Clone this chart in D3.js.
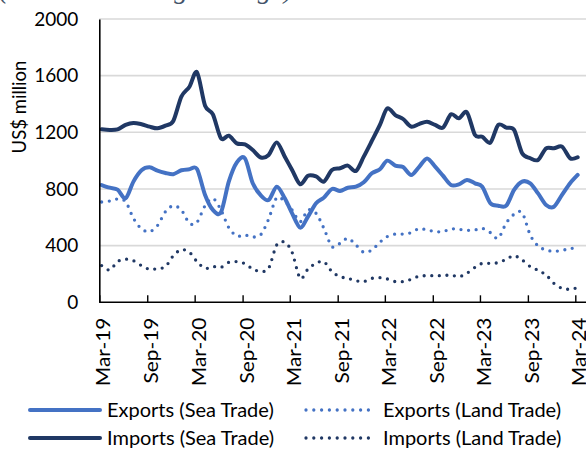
<!DOCTYPE html>
<html>
<head>
<meta charset="utf-8">
<script src="https://cdn.jsdelivr.net/npm/d3@7"></script>
<style>
  html, body { margin: 0; padding: 0; background: #fff; overflow: hidden; }
  svg { display: block; font-family: Lato, "Open Sans", sans-serif; }
</style>
</head>
<body>
<div id="main"></div>
<script>
// monthly values, Mar-19 .. Mar-24 (US$ million)
const exportsSea = [828, 809, 795, 734, 852, 932, 953, 929, 913, 904, 932, 939, 941, 758, 652, 635, 852, 988, 1016, 840,
  755, 722, 816, 734, 628, 527, 605, 699, 739, 800, 786, 809, 816, 847, 911, 939, 1000, 965, 955, 899,
  955, 1016, 958, 894, 828, 833, 864, 840, 816, 699, 682, 682, 793, 852, 840, 769, 687, 675, 758, 840, 899];

const exportsLand = [708, 715, 729, 711, 593, 518, 499, 541, 640, 682, 652, 558, 565, 682, 734, 652, 527, 468, 475, 461,
  478, 588, 739, 711, 652, 569, 652, 628, 522, 393, 416, 452, 405, 353, 369, 424, 464, 482, 482, 492,
  520, 511, 499, 499, 518, 515, 508, 511, 522, 492, 452, 560, 621, 633, 475, 398, 369, 360, 367, 379, 386];

const importsSea = [1221, 1217, 1221, 1252, 1266, 1257, 1240, 1228, 1247, 1280, 1452, 1522, 1624, 1388, 1327, 1158, 1176, 1122, 1115, 1075,
  1022, 1040, 1129, 1028, 934, 833, 894, 889, 852, 934, 946, 965, 927, 1028, 1139, 1252, 1369, 1322, 1294, 1240,
  1258, 1275, 1252, 1233, 1327, 1299, 1341, 1181, 1169, 1127, 1252, 1233, 1217, 1052, 1017, 1005, 1087, 1087, 1099, 1017, 1024];

const importsLand = [259, 228, 287, 304, 294, 259, 233, 238, 252, 329, 372, 353, 287, 240, 252, 247, 282, 287, 273, 235,
  218, 240, 405, 424, 353, 169, 235, 275, 287, 216, 181, 169, 153, 146, 169, 174, 165, 146, 146, 162,
  184, 188, 188, 188, 193, 181, 205, 247, 275, 275, 280, 304, 329, 299, 252, 226, 193, 134, 99, 92, 104];

const tickLabels = ['Mar-19', 'Sep-19', 'Mar-20', 'Sep-20', 'Mar-21', 'Sep-21', 'Mar-22', 'Sep-22', 'Mar-23', 'Sep-23', 'Mar-24'];
const yTicks = [0, 400, 800, 1200, 1600, 2000];

const seriesNames = ['Exports (Sea Trade)', 'Imports (Sea Trade)', 'Exports (Land Trade)', 'Imports (Land Trade)'];

/// layout ///
const w = 586, h = 449;
const plotLeft = 99.3, plotRight = 575.3, plotTop = 19, plotBottom = 302.3;

const svg = d3.select('#main').append('svg')
  .attr('width', w)
  .attr('height', h);

// chopped title above the chart (only the bottom of it shows)
svg.append('text')
  .attr('x', -1)
  .attr('y', -2)
  .attr('font-family', '"Liberation Serif", serif')
  .attr('font-style', 'italic')
  .attr('font-size', 27)
  .attr('fill', '#44546a')
  .attr('textLength', 294)
  .attr('lengthAdjust', 'spacingAndGlyphs')
  .text('(3-month moving average)');

const x = d3.scaleTime()
  .domain([new Date(2019, 2, 1), new Date(2024, 2, 1)])
  .range([plotLeft, plotRight]);

const y = d3.scaleLinear()
  .domain([0, 2000])
  .range([plotBottom, plotTop]);

// data points sit a little into each month
const dateOf = i => new Date(2019, 2 + i, 10);

// gridlines
svg.append('g')
  .selectAll('line')
  .data(yTicks.slice(1))
  .join('line')
  .attr('x1', plotLeft)
  .attr('x2', w)
  .attr('y1', d => y(d))
  .attr('y2', d => y(d))
  .attr('stroke', '#d9d9d9')
  .attr('stroke-width', 1.6);

/// lines ///
const line = d3.line()
  .x((d, i) => x(dateOf(i)))
  .y(d => y(d))
  .curve(d3.curveCardinal.tension(0.1));

const styles = [
  { data: exportsLand, color: '#4472c4', dash: '0 7.6', width: 3.3 },
  { data: importsLand, color: '#203864', dash: '0 7.6', width: 3.3 },
  { data: exportsSea, color: '#4472c4', dash: null, width: 4 },
  { data: importsSea, color: '#203864', dash: null, width: 4 }
];

svg.append('g')
  .selectAll('path')
  .data(styles)
  .join('path')
  .attr('d', s => line(s.data))
  .attr('fill', 'none')
  .attr('stroke', s => s.color)
  .attr('stroke-width', s => s.width)
  .attr('stroke-linecap', 'round')
  .attr('stroke-linejoin', 'round')
  .attr('stroke-dasharray', s => s.dash);

/// axes ///
const tickDates = tickLabels.map((d, i) => new Date(2019, 2 + 6 * i, 1));

const xAxis = d3.axisBottom(x)
  .tickValues(tickDates)
  .tickFormat((d, i) => tickLabels[i])
  .tickSizeInner(-7)
  .tickSizeOuter(0);

const gx = svg.append('g')
  .attr('transform', `translate(0,${plotBottom})`)
  .call(xAxis);

gx.select('.domain')
  .attr('d', `M${plotLeft},0H${w}`)
  .attr('stroke', '#000')
  .attr('stroke-width', 1.6);

gx.selectAll('.tick line')
  .attr('stroke', '#000')
  .attr('stroke-width', 1.4);

// labels read bottom-to-top, a bit stretched along their length like the original
gx.selectAll('.tick text')
  .attr('transform', 'rotate(-90) scale(1.13,1)')
  .attr('x', -13.5)
  .attr('y', 4)
  .attr('dy', '0.35em')
  .attr('text-anchor', 'end')
  .attr('font-family', 'Lato, sans-serif')
  .attr('font-size', 18.5)
  .attr('fill', '#000');

const yAxis = d3.axisLeft(y)
  .tickValues(yTicks)
  .tickFormat(d3.format('d'))
  .tickSize(0)
  .tickPadding(21);

const gy = svg.append('g')
  .attr('transform', `translate(${plotLeft},0)`)
  .call(yAxis);

gy.select('.domain')
  .attr('stroke', '#000')
  .attr('stroke-width', 1.6);

gy.selectAll('.tick text')
  .attr('font-family', 'Lato, sans-serif')
  .attr('font-size', 19)
  .attr('fill', '#000');

// y axis title
svg.append('text')
  .attr('transform', 'translate(26,107) rotate(-90)')
  .attr('text-anchor', 'middle')
  .attr('font-size', 18.5)
  .attr('fill', '#000')
  .text('US$ million');

/// legend ///
const legendItems = [
  { name: seriesNames[0], color: '#4472c4', dash: null, width: 4, lx: 30, row: 0 },
  { name: seriesNames[1], color: '#203864', dash: null, width: 4, lx: 30, row: 1 },
  { name: seriesNames[2], color: '#4472c4', dash: '0 7.8', width: 3.3, lx: 305, row: 0 },
  { name: seriesNames[3], color: '#203864', dash: '0 7.8', width: 3.3, lx: 305, row: 1 }
];

const lg = svg.append('g')
  .selectAll('g')
  .data(legendItems)
  .join('g')
  .attr('transform', d => `translate(${d.lx},${410 + d.row * 28})`);

lg.append('line')
  .attr('x1', d => d.dash ? 1 : 0)
  .attr('x2', d => d.dash ? 71 : 70)
  .attr('stroke', d => d.color)
  .attr('stroke-width', d => d.width)
  .attr('stroke-linecap', 'round')
  .attr('stroke-dasharray', d => d.dash);

lg.append('text')
  .attr('x', d => d.dash ? 78 : 77)
  .attr('dy', '0.35em')
  .attr('font-size', 20)
  .attr('fill', '#000')
  .text(d => d.name);
</script>
</body>
</html>
